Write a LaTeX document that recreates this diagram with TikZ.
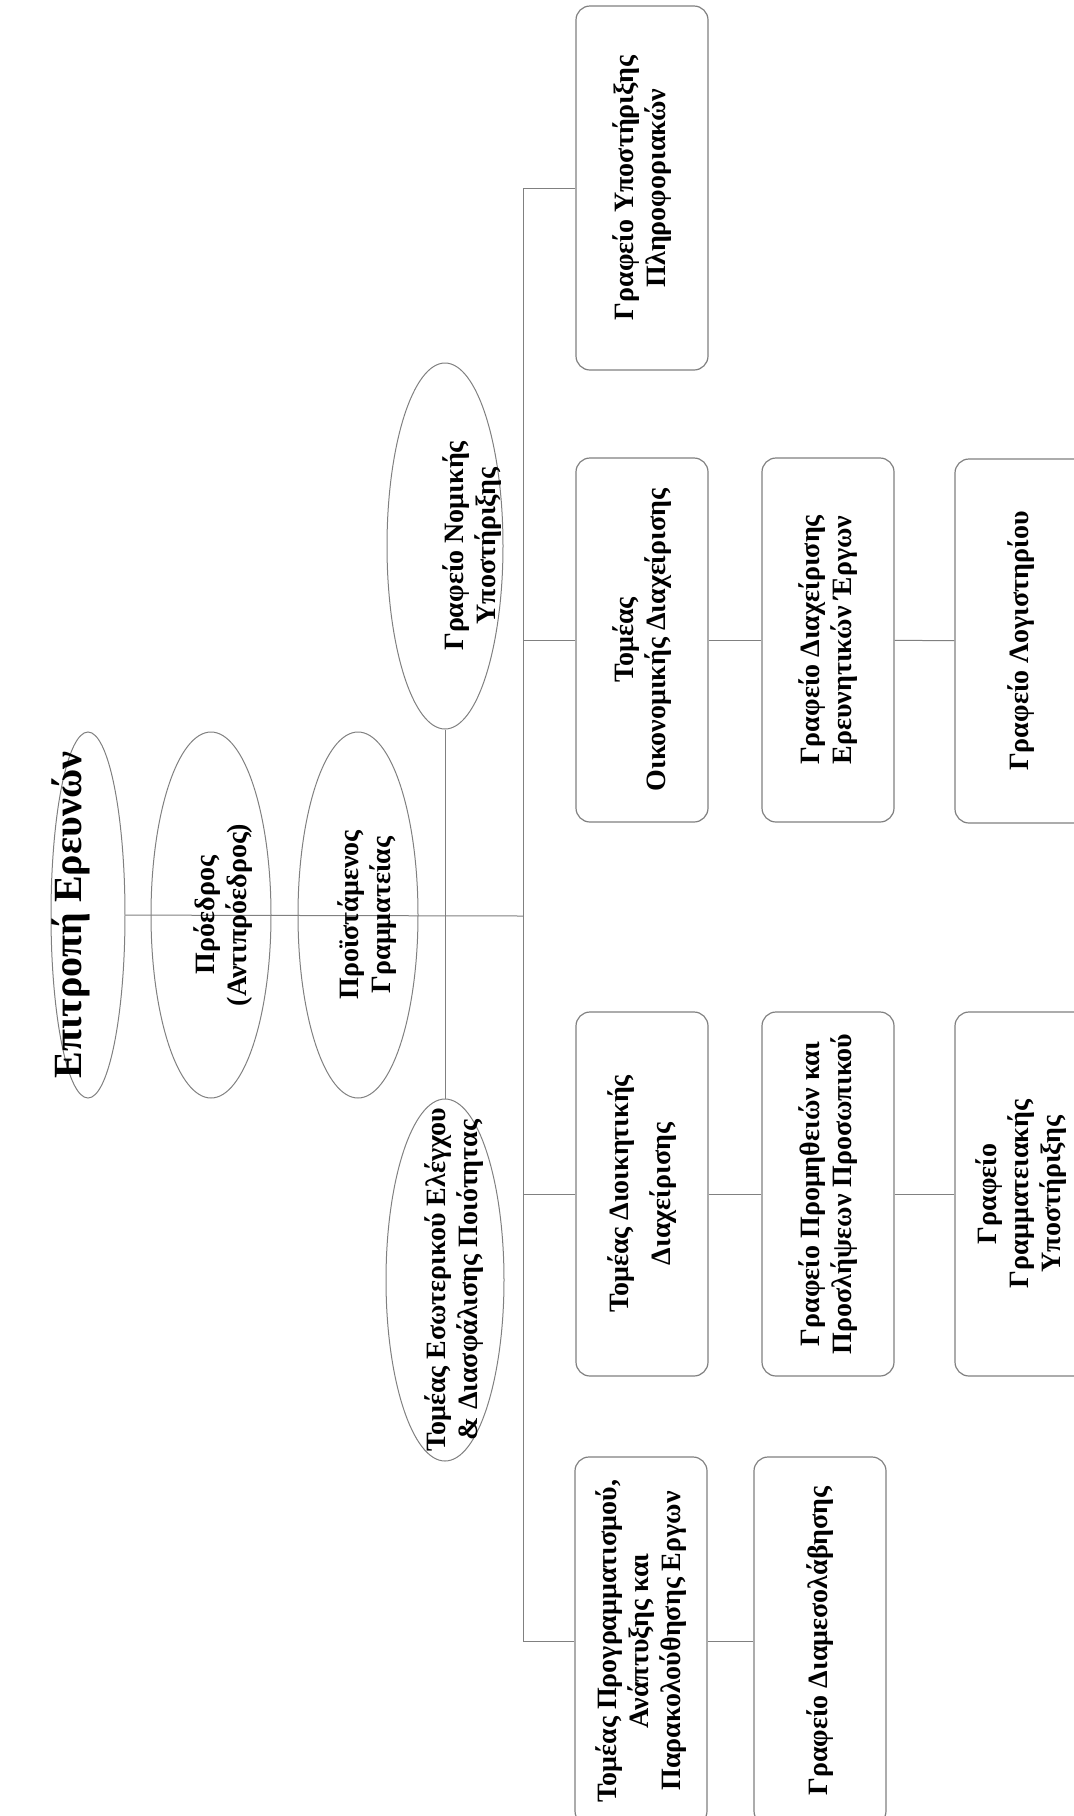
\documentclass[tikz,border=0pt]{standalone}
\usepackage{fontspec}
\setmainfont{Liberation Serif}
\usetikzlibrary{shapes.geometric,positioning,backgrounds}
\newcommand{\ovaltext}[2][0pt]{\makebox[0pt]{\smash{\raisebox{#1}{\begin{tabular}{@{}c@{}}#2\end{tabular}}}}}
\tikzstyle{oval} = [ellipse, draw=gray, line width=0.5pt, rotate=90, inner sep=0pt,
    minimum width=183pt, minimum height=60pt, font=\bfseries\fontsize{14}{16}\selectfont]
\tikzstyle{block} = [rectangle, draw=gray, line width=0.6pt, rotate=90, rounded corners=7pt,
    minimum width=182pt, minimum height=66pt, text centered, align=center,
    font=\bfseries\fontsize{14}{16}\selectfont]
\tikzstyle{line} = [draw=gray, line width=0.5pt]

\begin{document}
\begin{tikzpicture}[x=0.5pt, y=-0.5pt]
    \path [use as bounding box, clip] (0,0) rectangle (1074,1816);
    % Place nodes
    \node [oval, minimum height=37pt, font=\bfseries\fontsize{20}{24}\selectfont] (Committee) at (88,915) {\ovaltext[3pt]{Επιτροπή Ερευνών}};
    \node [oval] (President) at (211,915) {\ovaltext[-10pt]{Πρόεδρος\\(Αντιπρόεδρος)}};
    \node [oval] (Secretariat) at (358,915) {\ovaltext[-8.5pt]{Προϊστάμενος\\Γραμματείας}};
    \node [oval, minimum height=58pt] (Legal) at (445,546) {\ovaltext[-17.5pt]{Γραφείο Νομικής\\Υποστήριξης}};
    \node [oval, minimum height=59pt, minimum width=181pt] (Quality) at (445,1280) {\ovaltext[-8.5pt]{Τομέας Εσωτερικού Ελέγχου\\\& Διασφάλισης Ποιότητας}};
    % first column
    \node [block] (ItOffice) at (642,188) {Γραφείο Υποστήριξης\\Πληροφοριακών};
    \node [block] (Finance) at (642,640) {Τομέας\\Οικονομικής Διαχείρισης};
    \node [block] (Admin) at (642,1194) {Τομέας Διοικητικής\\[5pt]Διαχείρισης};
    \node [block, minimum width=184pt] (Planning) at (641,1641) {Τομέας Προγραμματισμού,\\Ανάπτυξης και\\Παρακολούθησης Εργων};
    % second and third column
    \node [block] (Projects) at (828,640) {Γραφείο Διαχείρισης\\Ερευνητικών Έργων};
    \node [block] (Accounting) at (1021,641) {Γραφείο Λογιστηρίου};
    \node [block] (Procurement) at (828,1194) {Γραφείο Προμηθειών και\\Προσλήψεων Προσωπικού};
    \node [block] (Clerical) at (1021,1194) {Γραφείο\\Γραμματειακής\\Υποστήριξης};
    \node [block, minimum width=184pt] (Mediation) at (820,1641) {Γραφείο Διαμεσολάβησης};
    \coordinate (Bus) at (523,916);
    % Draw edges
    \begin{scope}[on background layer]
    \path [line] (Committee) -- (Bus);
    \path [line] (Legal) -- (Quality);
    \path [line] (ItOffice) -- (ItOffice -| Bus) -- (Planning -| Bus) -- (Planning);
    \path [line] (Finance) -- (Finance -| Bus);
    \path [line] (Admin) -- (Admin -| Bus);
    \path [line] (Finance) -- (Projects);
    \path [line] (Projects) -- (Accounting);
    \path [line] (Admin) -- (Procurement);
    \path [line] (Procurement) -- (Clerical);
    \path [line] (Planning) -- (Mediation);
    \end{scope}
\end{tikzpicture}
\end{document}
